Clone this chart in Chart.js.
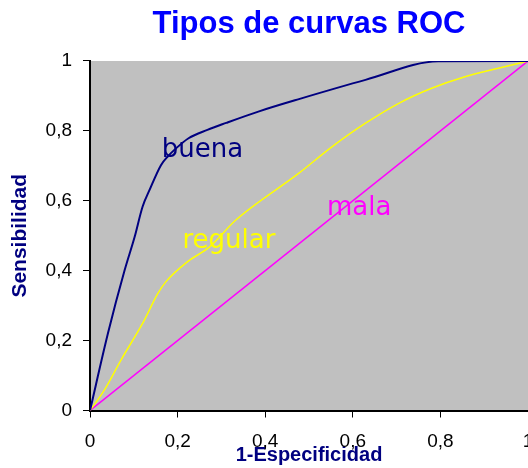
<!DOCTYPE html>
<html>
<head>
<meta charset="utf-8">
<script src="https://cdn.jsdelivr.net/npm/chart.js@4"></script>
<style>
  html, body { margin: 0; padding: 0; background: #ffffff; }
  canvas { display: block; }
</style>
</head>
<body>
<canvas id="c" width="528" height="468"></canvas>
<script>
// ---- data ----
const xTickLabels = ['0', '0,2', '0,4', '0,6', '0,8', '1'];
const yTickLabels = ['0', '0,2', '0,4', '0,6', '0,8', '1'];

const buenaX = [0, 0.041, 0.079, 0.102, 0.120, 0.136, 0.162, 0.177, 0.192, 0.225, 0.268, 0.311, 0.386, 0.477, 0.629, 0.795, 1];
const buenaY = [0, 0.221, 0.401, 0.497, 0.583, 0.631, 0.702, 0.726, 0.745, 0.779, 0.803, 0.823, 0.856, 0.891, 0.946, 0.999, 1];

const regularX = [0, 0.033, 0.071, 0.120, 0.155, 0.173, 0.223, 0.273, 0.333, 0.477, 0.553, 0.629, 0.705, 0.780, 0.856, 0.932, 1];
const regularY = [0, 0.059, 0.145, 0.249, 0.335, 0.368, 0.426, 0.468, 0.545, 0.679, 0.755, 0.822, 0.879, 0.922, 0.955, 0.979, 1];

const malaX = [0, 1];
const malaY = [0, 1];

const seriesNames = ['buena', 'regular', 'mala'];

function pts(xs, ys) { return xs.map((x, i) => ({ x: x, y: ys[i] })); }

// ---- styling ----
const colors = { buena: '#000080', regular: '#FFFF00', mala: '#FF00FF' };
const labelPos = {
  buena:   { x: 0.164, y: 0.725 },
  regular: { x: 0.211, y: 0.465 },
  mala:    { x: 0.541, y: 0.559 }
};

const plotBg = {
  id: 'plotBg',
  beforeDraw(chart) {
    const { ctx, chartArea: a } = chart;
    ctx.save();
    ctx.fillStyle = '#C0C0C0';
    ctx.fillRect(a.left, a.top, a.right - a.left, a.bottom - a.top);
    ctx.restore();
  }
};

const seriesLabels = {
  id: 'seriesLabels',
  afterDatasetsDraw(chart) {
    const { ctx, scales: { x, y } } = chart;
    ctx.save();
    ctx.font = '26px "DejaVu Sans", Verdana, sans-serif';
    ctx.textAlign = 'left';
    ctx.textBaseline = 'alphabetic';
    seriesNames.forEach(n => {
      ctx.fillStyle = colors[n];
      ctx.fillText(n, x.getPixelForValue(labelPos[n].x), y.getPixelForValue(labelPos[n].y));
    });
    ctx.restore();
  }
};

new Chart(document.getElementById('c'), {
  type: 'scatter',
  data: {
    datasets: [
      { label: 'buena', data: pts(buenaX, buenaY), showLine: true, borderColor: colors.buena, borderWidth: 2, pointRadius: 0, cubicInterpolationMode: 'monotone' },
      { label: 'regular', data: pts(regularX, regularY), showLine: true, borderColor: colors.regular, borderWidth: 1.5, pointRadius: 0, cubicInterpolationMode: 'monotone' },
      { label: 'mala', data: pts(malaX, malaY), showLine: true, borderColor: colors.mala, borderWidth: 1.5, pointRadius: 0 }
    ]
  },
  options: {
    responsive: false,
    animation: false,
    devicePixelRatio: 1,
    layout: { padding: { left: 0, right: -2, top: 0, bottom: 0 } },
    plugins: {
      legend: { display: false },
      tooltip: { enabled: false },
      title: {
        display: true,
        text: 'Tipos de curvas ROC',
        color: '#0000FF',
        fullSize: false,
        font: { family: '"Liberation Sans", Arial, sans-serif', size: 31, weight: 'bold' },
        padding: { top: 5.4, bottom: 18.4 }
      }
    },
    scales: {
      x: {
        type: 'linear',
        min: 0, max: 1,
        afterFit(s) { s.paddingRight = 0; s.height = 57.5; },
        border: { display: true, color: '#000', width: 2 },
        grid: { drawOnChartArea: false, drawTicks: true, tickLength: 7, color: '#000', lineWidth: 1 },
        ticks: {
          stepSize: 0.2,
          padding: 12.8,
          color: '#000',
          font: { family: '"Liberation Sans", Arial, sans-serif', size: 19 },
          maxRotation: 0,
          autoSkip: false,
          callback: (v, i) => xTickLabels[i]
        },
        title: {
          display: true,
          text: '1-Especificidad',
          color: '#000080',
          font: { family: '"Liberation Sans", Arial, sans-serif', size: 20, weight: 'bold' },
          padding: { top: 0, bottom: 1 }
        }
      },
      y: {
        type: 'linear',
        min: 0, max: 1,
        afterFit(s) { s.width = 90; },
        border: { display: true, color: '#000', width: 2 },
        grid: { drawOnChartArea: false, drawTicks: true, tickLength: 7, color: '#000', lineWidth: 1 },
        ticks: {
          stepSize: 0.2,
          padding: 11,
          color: '#000',
          font: { family: '"Liberation Sans", Arial, sans-serif', size: 19 },
          autoSkip: false,
          callback: (v, i) => yTickLabels[i]
        },
        title: {
          display: true,
          text: 'Sensibilidad',
          color: '#000080',
          font: { family: '"Liberation Sans", Arial, sans-serif', size: 21, weight: 'bold' },
          padding: { top: 7.4, bottom: 13 }
        }
      }
    }
  },
  plugins: [plotBg, seriesLabels]
});
</script>
</body>
</html>
